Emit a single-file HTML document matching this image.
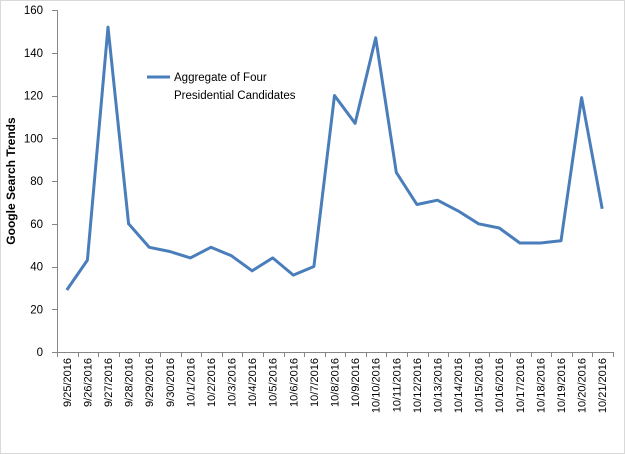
<!DOCTYPE html>
<html><head><meta charset="utf-8"><style>
html,body{margin:0;padding:0;background:#fff;}
svg{display:block;font-family:"Liberation Sans",sans-serif;}
</style></head><body>
<svg width="625" height="454" viewBox="0 0 625 454" xmlns="http://www.w3.org/2000/svg">
<rect x="0.5" y="0.5" width="624" height="453" fill="#fff" stroke="#d9d9d9"/>
<g stroke="#868686" stroke-width="1">
<line x1="57.5" y1="10" x2="57.5" y2="352"/>
<line x1="57" y1="352.5" x2="613" y2="352.5"/>
</g>
<g stroke="#868686" stroke-width="1" id="yt"></g>
<g font-size="11.5" fill="#000" text-anchor="end" id="yl"></g>
<g stroke="#868686" id="xt"></g>
<g font-size="11" fill="#000" id="xl"></g>
<text transform="translate(15,181) rotate(-90)" text-anchor="middle" font-size="12" font-weight="bold">Google Search Trends</text>
<polyline id="ln" fill="none" stroke="#4a7ebb" stroke-width="3" stroke-linejoin="round" points=""/>
<line x1="147" y1="77" x2="170" y2="77" stroke="#4a7ebb" stroke-width="3"/>
<text x="174" y="81" font-size="11.5">Aggregate of Four</text>
<text x="174" y="99" font-size="11.5">Presidential Candidates</text>
</svg>
<script>
var ns="http://www.w3.org/2000/svg";
function el(t,a,p,txt){var e=document.createElementNS(ns,t);for(var k in a)e.setAttribute(k,a[k]);if(txt)e.textContent=txt;document.getElementById(p).appendChild(e);}
for(var v=0;v<=160;v+=20){var y=352-v*342/160;el("line",{x1:52,x2:57,y1:Math.round(y)+.5,y2:Math.round(y)+.5},"yt");el("text",{x:43,y:y+4},"yl",String(v));}
var d=[29,43,152,60,49,47,44,49,45,38,44,36,40,120,107,147,84,69,71,66,60,58,51,51,52,119,67];
var labels=["9/25/2016","9/26/2016","9/27/2016","9/28/2016","9/29/2016","9/30/2016"];
for(var i=1;i<=21;i++)labels.push("10/"+i+"/2016");
var w=(613-57)/27,pts=[];
for(var i=0;i<=27;i++){var x=Math.round(57+i*w)+.5;el("line",{x1:x,x2:x,y1:352,y2:357},"xt");}
for(var i=0;i<27;i++){var cx=57+(i+.5)*w-0.5;pts.push(cx.toFixed(1)+","+(352-d[i]*342/160).toFixed(1));
el("text",{transform:"translate("+(cx+4)+",358) rotate(-90)","text-anchor":"end"},"xl",labels[i]);}
document.getElementById("ln").setAttribute("points",pts.join(" "));
</script>
</body></html>
